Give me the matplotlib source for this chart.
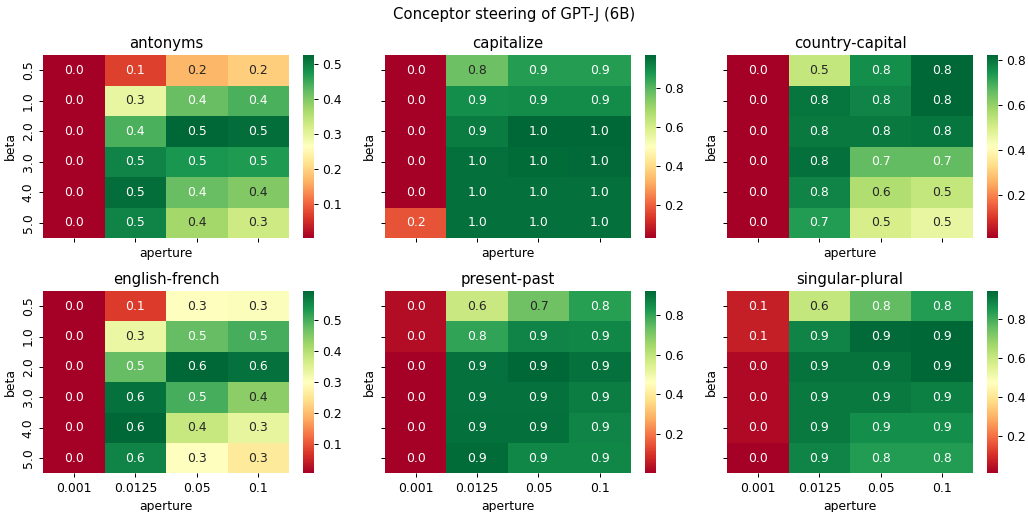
import matplotlib
matplotlib.use("Agg")
import matplotlib.pyplot as plt
import seaborn as sns
import numpy as np

apertures = ["0.001", "0.0125", "0.05", "0.1"]
betas = ["0.5", "1.0", "2.0", "3.0", "4.0", "5.0"]

antonyms = [
    [0.003, 0.070, 0.170, 0.195],
    [0.003, 0.295, 0.420, 0.440],
    [0.003, 0.440, 0.527, 0.520],
    [0.003, 0.495, 0.475, 0.470],
    [0.003, 0.520, 0.420, 0.400],
    [0.003, 0.495, 0.370, 0.330],
]
capitalize = [
    [0.030, 0.770, 0.860, 0.860],
    [0.030, 0.895, 0.900, 0.900],
    [0.030, 0.930, 0.970, 0.970],
    [0.030, 0.955, 0.960, 0.965],
    [0.030, 0.955, 0.955, 0.955],
    [0.180, 0.955, 0.955, 0.955],
]
country_capital = [
    [0.010, 0.530, 0.755, 0.820],
    [0.010, 0.795, 0.770, 0.820],
    [0.010, 0.790, 0.790, 0.795],
    [0.010, 0.805, 0.660, 0.660],
    [0.010, 0.770, 0.560, 0.530],
    [0.010, 0.730, 0.500, 0.460],
]
english_french = [
    [0.007, 0.077, 0.300, 0.305],
    [0.007, 0.330, 0.476, 0.500],
    [0.007, 0.476, 0.593, 0.580],
    [0.007, 0.580, 0.500, 0.440],
    [0.007, 0.593, 0.380, 0.335],
    [0.007, 0.557, 0.300, 0.260],
]
present_past = [
    [0.030, 0.580, 0.720, 0.810],
    [0.030, 0.800, 0.865, 0.860],
    [0.002, 0.900, 0.920, 0.900],
    [0.002, 0.900, 0.900, 0.880],
    [0.002, 0.905, 0.905, 0.865],
    [0.002, 0.910, 0.860, 0.860],
]
singular_plural = [
    [0.070, 0.610, 0.760, 0.840],
    [0.070, 0.890, 0.940, 0.945],
    [0.030, 0.920, 0.920, 0.945],
    [0.030, 0.910, 0.910, 0.900],
    [0.030, 0.910, 0.870, 0.870],
    [0.010, 0.890, 0.840, 0.840],
]

titles = ["antonyms", "capitalize", "country-capital",
          "english-french", "present-past", "singular-plural"]
datasets = [antonyms, capitalize, country_capital,
            english_french, present_past, singular_plural]

DPI = 89
W, H = 1028, 512
fig = plt.figure(figsize=(W / DPI, H / DPI), dpi=DPI)

col_x = [(43.3, 289, 303.3), (385, 630.5, 645), (727.3, 972.7, 987)]
row_y = [(55, 238), (291, 473.3)]
cbw = 10.5

for i, (title, data) in enumerate(zip(titles, datasets)):
    r, c = divmod(i, 3)
    x0, x1, cx = col_x[c]
    y0, y1 = row_y[r]
    ax = fig.add_axes([x0 / W, 1 - y1 / H, (x1 - x0) / W, (y1 - y0) / H])
    cax = fig.add_axes([cx / W, 1 - y1 / H, cbw / W, (y1 - y0) / H])
    sns.heatmap(np.array(data), ax=ax, cbar_ax=cax, cmap="RdYlGn",
                annot=True, fmt=".1f",
                xticklabels=apertures, yticklabels=betas)
    ax.set_title(title)
    ax.set_xlabel("aperture")
    ax.set_ylabel("beta")
    if r == 0:
        ax.tick_params(labelbottom=False)
    if c > 0:
        ax.tick_params(labelleft=False)

fig.suptitle("Conceptor steering of GPT-J (6B)", y=1 - 14 / H, va="center")
fig.savefig("out.png", dpi=DPI)
